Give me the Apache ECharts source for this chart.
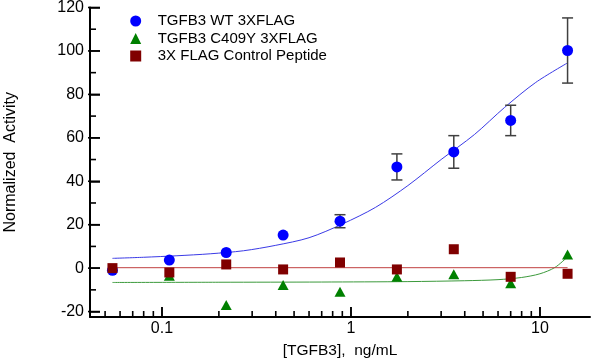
<!DOCTYPE html>
<html><head><meta charset="utf-8">
<script src="https://cdn.jsdelivr.net/npm/echarts@6/dist/echarts.min.js"></script>
<style>html,body{margin:0;padding:0;background:#fff}#c{width:591px;height:360px}</style>
</head><body><div id="c"></div>
<script>
// Concentrations (ng/mL), 2-fold dilutions
const conc = [0.0546875, 0.109375, 0.21875, 0.4375, 0.875, 1.75, 3.5, 7, 14];
// TGFB3 WT 3XFLAG
const wtValues = [-1, 3.7, 7.2, 15.2, 21.6, 46.6, 53.5, 68, 100.2];
const wtErrors = [0, 0, 0, 0, 3, 6, 7.5, 7, 15];
// TGFB3 C409Y 3XFLAG
const mutConc = [0.109375, 0.21875, 0.4375, 0.875, 1.75, 3.5, 7, 14];
const mutValues = [-3.5, -17, -7.8, -10.9, -4, -2.8, -7, 6.3];
// 3X FLAG Control Peptide
const ctrlValues = [0, -2, 1.7, -0.6, 2.6, -0.6, 8.7, -4, -2.6];
// Fitted curves
const wtFitX = [0.0546875, 0.08, 0.12, 0.18, 0.27, 0.4, 0.6, 0.9, 1.35, 2, 3, 4.5, 6.5, 9.5, 14];
const wtFitY = [4.5, 5.0, 5.7, 6.6, 8.0, 10.5, 14, 20.3, 28, 38, 50, 61.5, 74, 85.5, 94.5];
const mutFitX = [0.0546875, 0.2, 0.7, 2, 4, 6, 8, 10, 12, 14];
const mutFitY = [-6.6, -6.5, -6.4, -6.2, -5.8, -5.3, -4.3, -2.6, 0.3, 5.2];
const ctrlFitX = [0.0546875, 14];
const ctrlFitY = [0.2, 0.2];
// Ticks
const xMajorTicks = [0.1, 1, 10];
const xMinorTicks = [0.05, 0.06, 0.07, 0.08, 0.09, 0.2, 0.3, 0.4, 0.5, 0.6, 0.7, 0.8, 0.9, 2, 3, 4, 5, 6, 7, 8, 9];
const yMajorTicks = [-20, 0, 20, 40, 60, 80, 100, 120];
const yMinorTicks = [-10, 10, 30, 50, 70, 90, 110];
const seriesNames = ['TGFB3 WT 3XFLAG', 'TGFB3 C409Y 3XFLAG', '3X FLAG Control Peptide'];

const FONT = 'Liberation Sans, Arial, sans-serif';
const X_MIN = 0.0416, X_MAX = 18.4, Y_MIN = -22.5, Y_MAX = 120;
const pair = (xs, ys) => xs.map((x, i) => [x, ys[i]]);

const chart = echarts.init(document.getElementById('c'), null, {renderer: 'canvas'});
chart.setOption({
  animation: false,
  backgroundColor: '#fff',
  textStyle: {fontFamily: FONT},
  grid: {left: 90, right: 1, top: 7.5, bottom: 43, containLabel: false, outerBoundsMode: 'none'},
  legend: {
    orient: 'vertical', left: 125.2, top: 8.5, itemWidth: 11, itemHeight: 11, itemGap: 2.5,
    textStyle: {fontFamily: FONT, fontSize: 15, color: '#000', padding: [0, 0, 0, 11.5]},
    data: [
      {name: seriesNames[0], icon: 'circle'},
      {name: seriesNames[1], icon: 'triangle'},
      {name: seriesNames[2], icon: 'rect'}
    ]
  },
  xAxis: {
    type: 'log', logBase: 10, min: X_MIN, max: X_MAX,
    name: '[TGFB3],  ng/mL', nameLocation: 'middle', nameGap: 26,
    nameTextStyle: {fontFamily: FONT, fontSize: 15.5, color: '#000'},
    axisLine: {show: true, onZero: false, lineStyle: {color: '#000', width: 2}},
    axisTick: {show: true, inside: true, length: 10, lineStyle: {color: '#000', width: 1.5}, customValues: xMajorTicks},
    axisLabel: {fontFamily: FONT, fontSize: 16, color: '#000', margin: 4, customValues: xMajorTicks},
    splitLine: {show: false}, minorTick: {show: false}
  },
  yAxis: {
    type: 'value', min: Y_MIN, max: Y_MAX,
    name: 'Normalized  Activity', nameLocation: 'middle', nameGap: 71, nameRotate: 90,
    nameTextStyle: {fontFamily: FONT, fontSize: 16, color: '#000'},
    axisLine: {show: true, onZero: false, lineStyle: {color: '#000', width: 2}},
    axisTick: {show: true, inside: true, length: 10, lineStyle: {color: '#000', width: 1.5}, customValues: yMajorTicks},
    axisLabel: {fontFamily: FONT, fontSize: 16, color: '#000', margin: 6, customValues: yMajorTicks},
    splitLine: {show: false}
  },
  series: [
    {type: 'line', name: 'wtfit', data: pair(wtFitX, wtFitY), smooth: 0.3,
     showSymbol: false, symbol: 'none', lineStyle: {color: '#3a3ae6', width: 1}, z: 2, silent: true},
    {type: 'line', name: 'mutfit', data: pair(mutFitX, mutFitY), smooth: 0.3,
     showSymbol: false, symbol: 'none', lineStyle: {color: '#3c9a3c', width: 1}, z: 2, silent: true},
    {type: 'line', name: 'ctrlfit', data: pair(ctrlFitX, ctrlFitY),
     showSymbol: false, symbol: 'none', lineStyle: {color: '#c04040', width: 1}, z: 2, silent: true},
    {type: 'custom', name: 'err', z: 3, silent: true,
     data: conc.map((c, i) => [c, wtValues[i], wtErrors[i]]).filter(d => d[2] > 0),
     encode: {x: 0, y: 1},
     renderItem: function (params, api) {
       const x = api.value(0), y = api.value(1), e = api.value(2);
       const t = api.coord([x, y + e]), b = api.coord([x, y - e]);
       const cap = 5.5, st = {stroke: '#404040', lineWidth: 1.5};
       return {type: 'group', children: [
         {type: 'line', shape: {x1: t[0], y1: t[1], x2: b[0], y2: b[1]}, style: st},
         {type: 'line', shape: {x1: t[0] - cap, y1: t[1], x2: t[0] + cap, y2: t[1]}, style: st},
         {type: 'line', shape: {x1: b[0] - cap, y1: b[1], x2: b[0] + cap, y2: b[1]}, style: st}
       ]};
     }},
    {type: 'scatter', name: seriesNames[0], data: pair(conc, wtValues), symbol: 'circle', symbolSize: 11,
     itemStyle: {color: '#0000ff', opacity: 1}, z: 4},
    {type: 'scatter', name: seriesNames[1], data: pair(mutConc, mutValues), symbol: 'triangle', symbolSize: [11, 10],
     itemStyle: {color: '#008000', opacity: 1}, z: 5},
    {type: 'scatter', name: seriesNames[2], data: pair(conc, ctrlValues), symbol: 'rect', symbolSize: 10,
     itemStyle: {color: '#800000', opacity: 1}, z: 6}
  ]
});

// Minor (and major) tick marks placed through the chart's own axis scales
const finder = {xAxisIndex: 0, yAxisIndex: 0};
const ticks = [];
function addXTicks(values, len) {
  values.forEach(v => {
    const p = chart.convertToPixel(finder, [v, Y_MIN]);
    ticks.push({type: 'line', z: 100,
      shape: {x1: p[0], y1: p[1] - 1, x2: p[0], y2: p[1] - len},
      style: {stroke: '#000', lineWidth: 1.6}});
  });
}
function addYTicks(values, len, back) {
  values.forEach(v => {
    const p = chart.convertToPixel(finder, [X_MIN, v]);
    ticks.push({type: 'line', z: 100,
      shape: {x1: p[0] - back, y1: p[1], x2: p[0] + len, y2: p[1]},
      style: {stroke: '#000', lineWidth: 1.6}});
  });
}
addXTicks(xMajorTicks, 10);
addXTicks(xMinorTicks, 6);
addYTicks(yMajorTicks, 10, 2);
addYTicks(yMinorTicks, 6, 0);
chart.setOption({graphic: {elements: ticks}});
</script></body></html>
